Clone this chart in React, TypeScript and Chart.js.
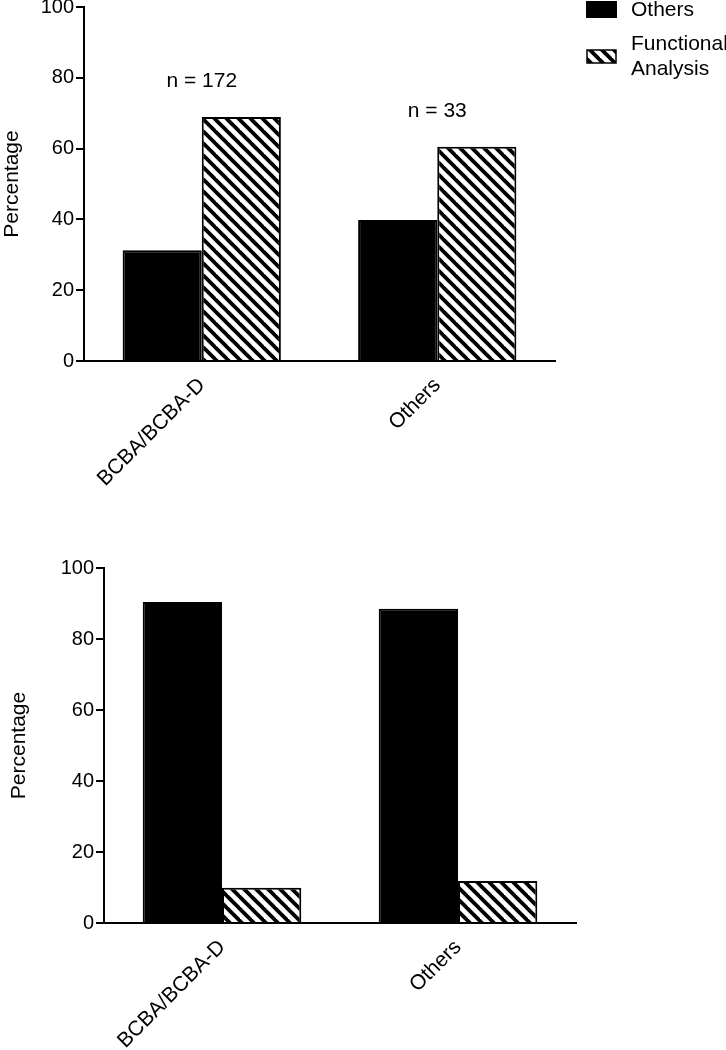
import React, { useEffect, useRef } from "react";
import { Chart, registerables } from "chart.js";

Chart.register(...registerables);

const categories = ["BCBA/BCBA-D", "Others"];
const seriesNames = ["Others", "Functional Analysis"];
const legendLines = [["Others"], ["Functional", "Analysis"]];
const topOthers = [31.3, 39.8];
const topFunctional = [68.9, 60.5];
const topNLabels = ["n = 172", "n = 33"];
const bottomOthers = [90.4, 88.5];
const bottomFunctional = [9.9, 11.8];
const yTitle = "Percentage";

const FONT = "'Liberation Sans', Arial, Helvetica, sans-serif";

function makeHatch(): CanvasPattern | string {
  const c = document.createElement("canvas");
  const s = 12;
  c.width = s;
  c.height = s;
  const g = c.getContext("2d");
  if (!g) return "#fff";
  g.fillStyle = "#fff";
  g.fillRect(0, 0, s, s);
  g.strokeStyle = "#000";
  g.lineWidth = 3.8;
  for (let k = -1; k <= 1; k++) {
    g.beginPath();
    g.moveTo(-2, -2 + s * k);
    g.lineTo(s + 2, s + 2 + s * k);
    g.stroke();
  }
  const p = g.createPattern(c, "repeat");
  return p || "#fff";
}

type Cfg = {
  others: number[];
  functional: number[];
  padTop: number;
  padRight: number;
  yWidth: number;
  xHeight: number;
  titlePad: number;
  nLabels?: string[];
  legend?: boolean;
};

function BarChart({ cfg }: { cfg: Cfg }) {
  const ref = useRef<HTMLCanvasElement | null>(null);
  useEffect(() => {
    document.body.style.margin = "0";
    const canvas = ref.current;
    if (!canvas) return;
    const hatch = makeHatch();
    const font = { family: FONT, size: 21 };
    const tickFont = { family: FONT, size: 20 };

    const nLabelPlugin = {
      id: "nLabels",
      afterDatasetsDraw(chart: any) {
        if (!cfg.nLabels) return;
        const ctx = chart.ctx;
        const xs = chart.scales.x;
        const ys = chart.scales.y;
        ctx.save();
        ctx.fillStyle = "#000";
        ctx.font = `21px ${FONT}`;
        ctx.textAlign = "center";
        ctx.textBaseline = "middle";
        cfg.nLabels.forEach((t, i) => {
          const top = Math.max(cfg.others[i], cfg.functional[i]);
          ctx.fillText(t, xs.getPixelForValue(i), ys.getPixelForValue(top + 10));
        });
        ctx.restore();
      },
    };

    const legendPlugin = {
      id: "customLegend",
      afterDraw(chart: any) {
        if (!cfg.legend) return;
        const ctx = chart.ctx;
        const x0 = chart.chartArea.right + 31;
        ctx.save();
        ctx.fillStyle = "#000";
        ctx.fillRect(x0, 1, 31, 17);
        ctx.fillStyle = hatch as any;
        ctx.fillRect(x0 + 1, 50, 29, 13);
        ctx.strokeStyle = "#000";
        ctx.lineWidth = 1.5;
        ctx.strokeRect(x0 + 1, 50, 29, 13);
        ctx.fillStyle = "#000";
        ctx.font = `21px ${FONT}`;
        ctx.textAlign = "left";
        ctx.textBaseline = "middle";
        ctx.fillText(legendLines[0][0], x0 + 45, 10);
        ctx.fillText(legendLines[1][0], x0 + 45, 44);
        ctx.fillText(legendLines[1][1], x0 + 45, 69);
        ctx.restore();
      },
    };

    const chart = new Chart(canvas, {
      type: "bar",
      data: {
        labels: categories,
        datasets: [
          {
            label: seriesNames[0],
            data: cfg.others,
            backgroundColor: "#000",
            borderColor: "#000",
            borderWidth: 2,
          },
          {
            label: seriesNames[1],
            data: cfg.functional,
            backgroundColor: hatch as any,
            borderColor: "#000",
            borderWidth: 2,
          },
        ],
      },
      options: {
        animation: false,
        responsive: false,
        maintainAspectRatio: false,
        layout: { padding: { left: 0, right: cfg.padRight, top: cfg.padTop, bottom: 0 } },
        datasets: { bar: { categoryPercentage: 0.672, barPercentage: 1 } },
        plugins: {
          legend: { display: false },
          tooltip: { enabled: false },
        },
        scales: {
          x: {
            grid: { display: false, drawTicks: false },
            border: { display: true, color: "#000", width: 2 },
            ticks: {
              color: "#000",
              font,
              autoSkip: false,
              maxRotation: 45,
              minRotation: 45,
              padding: 12,
            },
            afterFit: (s: any) => {
              s.height = cfg.xHeight;
              s.paddingLeft = 0;
              s.paddingRight = 0;
            },
          },
          y: {
            min: 0,
            max: 100,
            ticks: { stepSize: 20, color: "#000", font: tickFont, padding: 2 },
            grid: {
              display: true,
              drawOnChartArea: false,
              drawTicks: true,
              tickLength: 8,
              color: "#000",
              lineWidth: 2,
            },
            border: { display: true, color: "#000", width: 2 },
            title: {
              display: true,
              text: yTitle,
              color: "#000",
              font,
              padding: { top: cfg.titlePad, bottom: 0 },
            },
            afterFit: (s: any) => {
              s.width = cfg.yWidth;
              s.paddingTop = 0;
              s.paddingBottom = 0;
            },
          },
        },
      },
      plugins: [nLabelPlugin, legendPlugin],
    });
    return () => chart.destroy();
  }, [cfg]);
  return <canvas ref={ref} width={726} height={525} style={{ display: "block" }} />;
}

const topCfg: Cfg = {
  others: topOthers,
  functional: topFunctional,
  padTop: 7,
  padRight: 171,
  yWidth: 84,
  xHeight: 164,
  titlePad: 0,
  nLabels: topNLabels,
  legend: true,
};

const bottomCfg: Cfg = {
  others: bottomOthers,
  functional: bottomFunctional,
  padTop: 43,
  padRight: 150,
  yWidth: 104,
  xHeight: 127,
  titlePad: 7,
};

export default function App() {
  return (
    <div style={{ width: 726, height: 1050, background: "#fff" }}>
      <BarChart cfg={topCfg} />
      <BarChart cfg={bottomCfg} />
    </div>
  );
}
